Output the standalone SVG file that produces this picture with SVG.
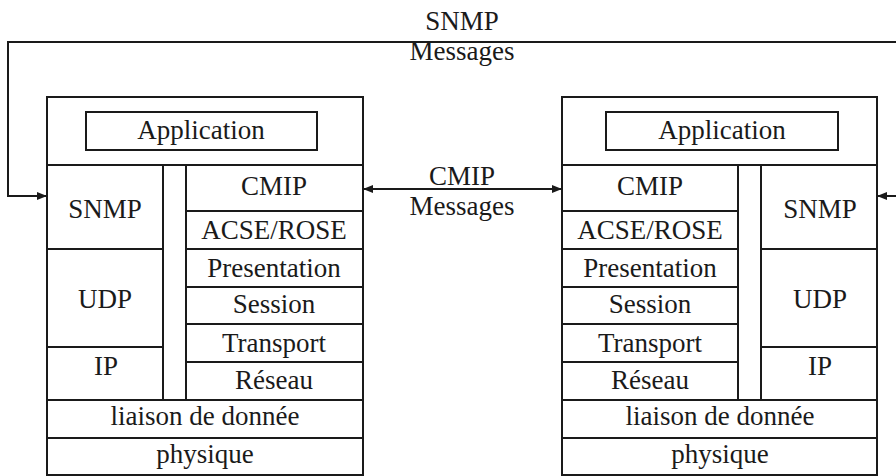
<svg xmlns="http://www.w3.org/2000/svg" width="896" height="476" viewBox="0 0 896 476">
<defs>
<marker id="arr" markerUnits="userSpaceOnUse" markerWidth="11" markerHeight="9" refX="10" refY="4" orient="auto-start-reverse">
<path d="M0,0 L10,4 L0,8 z" fill="#1a1a1a"/>
</marker>
<style>
rect{fill:none;stroke:#1a1a1a;stroke-width:2}
text{font-family:'Liberation Serif','DejaVu Serif','Times New Roman',serif;font-size:27px;fill:#1a1a1a;text-anchor:middle}
.conn{fill:none;stroke:#1a1a1a;stroke-width:2}
</style>
</defs>
<rect x="0" y="0" width="896" height="476" style="fill:#fff;stroke:none"/>

<g id="left-stack">
<g id="l-app"><rect x="47" y="97" width="316" height="68"/><rect x="86" y="112" width="231" height="38"/><text x="201" y="139">Application</text></g>
<g id="l-snmp"><rect x="47" y="165" width="116" height="84"/><text x="105" y="218">SNMP</text></g>
<g id="l-udp"><rect x="47" y="249" width="116" height="98"/><text x="105" y="308">UDP</text></g>
<g id="l-ip"><rect x="47" y="347" width="116" height="53"/><text x="106" y="375">IP</text></g>
<g id="l-gap"><rect x="163" y="165" width="23" height="235"/></g>
<g id="l-cmip"><rect x="186" y="165" width="177" height="46"/><text x="274" y="195">CMIP</text></g>
<g id="l-acse"><rect x="186" y="211" width="177" height="38"/><text x="274" y="239">ACSE/ROSE</text></g>
<g id="l-pres"><rect x="186" y="249" width="177" height="38"/><text x="274" y="277">Presentation</text></g>
<g id="l-sess"><rect x="186" y="287" width="177" height="37"/><text x="274" y="313">Session</text></g>
<g id="l-trans"><rect x="186" y="324" width="177" height="38"/><text x="274" y="352">Transport</text></g>
<g id="l-res"><rect x="186" y="362" width="177" height="38"/><text x="274" y="389">Réseau</text></g>
<g id="l-liaison"><rect x="47" y="400" width="316" height="38"/><text x="205" y="425">liaison de donnée</text></g>
<g id="l-phys"><rect x="47" y="438" width="316" height="37"/><text x="205" y="463">physique</text></g>
</g>

<g id="right-stack">
<g id="r-app"><rect x="562" y="97" width="315" height="68"/><rect x="606" y="112" width="232" height="38"/><text x="722" y="139">Application</text></g>
<g id="r-cmip"><rect x="562" y="165" width="176" height="46"/><text x="650" y="195">CMIP</text></g>
<g id="r-acse"><rect x="562" y="211" width="176" height="38"/><text x="650" y="239">ACSE/ROSE</text></g>
<g id="r-pres"><rect x="562" y="249" width="176" height="38"/><text x="650" y="277">Presentation</text></g>
<g id="r-sess"><rect x="562" y="287" width="176" height="37"/><text x="650" y="313">Session</text></g>
<g id="r-trans"><rect x="562" y="324" width="176" height="38"/><text x="650" y="352">Transport</text></g>
<g id="r-res"><rect x="562" y="362" width="176" height="38"/><text x="650" y="389">Réseau</text></g>
<g id="r-gap"><rect x="738" y="165" width="23" height="235"/></g>
<g id="r-snmp"><rect x="761" y="165" width="116" height="84"/><text x="820" y="218">SNMP</text></g>
<g id="r-udp"><rect x="761" y="249" width="116" height="98"/><text x="820" y="308">UDP</text></g>
<g id="r-ip"><rect x="761" y="347" width="116" height="53"/><text x="820" y="375">IP</text></g>
<g id="r-liaison"><rect x="562" y="400" width="315" height="38"/><text x="720" y="425">liaison de donnée</text></g>
<g id="r-phys"><rect x="562" y="438" width="315" height="37"/><text x="720" y="463">physique</text></g>
</g>

<g id="connectors">
<path class="conn" d="M896,42 H8 V196 H47" marker-end="url(#arr)"/>
<path class="conn" d="M896,196 H877" marker-end="url(#arr)"/>
<path class="conn" d="M363,189 H562" marker-start="url(#arr)" marker-end="url(#arr)"/>
<text x="462" y="30">SNMP</text>
<text x="462" y="60">Messages</text>
<text x="462" y="185">CMIP</text>
<text x="462" y="215">Messages</text>
</g>
</svg>
